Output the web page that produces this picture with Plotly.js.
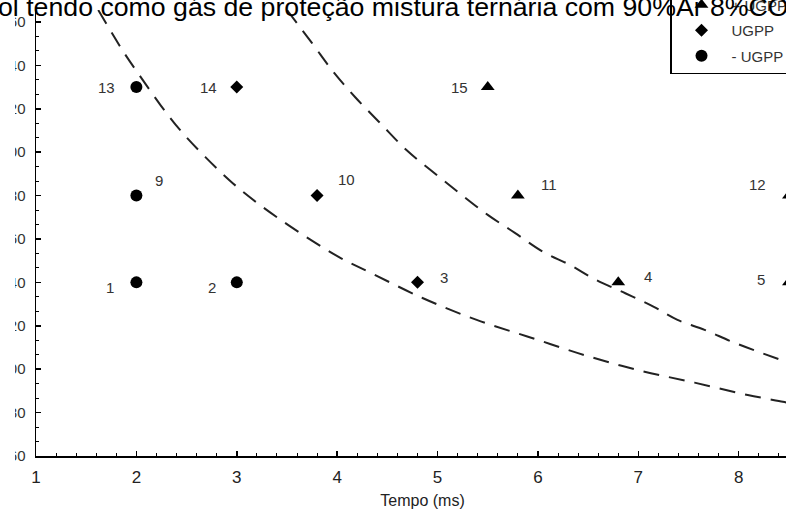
<!DOCTYPE html>
<html><head><meta charset="utf-8">
<script src="https://cdn.plot.ly/plotly-3.0.1.min.js"></script>
<style>
html,body{margin:0;padding:0;overflow:hidden;background:#fff;width:786px;height:512px}
#wrap{position:absolute;left:-44px;top:-50px;width:873px;height:586px}
</style>
</head><body><div id="wrap"></div>
<script>
// ---- data ----
const titleText = "ol tendo como gás de proteção mistura ternária com 90%Ar 8%CO2";
const xTitle = "Tempo (ms)";
const seriesNames = ["+ UGPP", "UGPP", "- UGPP"];

const triIds = ["15", "11", "12", "4", "5"];
const triX = [5.5, 5.8, 8.5, 6.8, 8.5];
const triY = [430, 380, 380, 340, 340];

const diaIds = ["14", "10", "3"];
const diaX = [3, 3.8, 4.8];
const diaY = [430, 380, 340];

const cirIds = ["13", "9", "1", "2"];
const cirX = [2, 2, 2, 3];
const cirY = [430, 380, 340, 340];

const lowerCurveX = [1.62, 1.87, 2.04, 2.24, 2.45, 2.69, 2.96, 3.23, 3.51, 3.78, 4.04, 4.33, 4.85, 5.39, 5.94, 6.49, 7.02, 7.56, 8.09, 8.44, 8.5];
const lowerCurveY = [465.5, 446.3, 434.8, 421.7, 409.4, 397.6, 385.7, 375.7, 366.5, 358.3, 351.1, 344.5, 332.8, 322.7, 314.4, 306.1, 299.3, 293.8, 288.1, 285.0, 284.4];

const upperCurveX = [3.50, 3.75, 3.96, 4.18, 4.43, 4.69, 4.97, 5.24, 5.50, 5.77, 6.05, 6.32, 6.58, 6.87, 7.15, 7.39, 7.66, 7.93, 8.19, 8.47];
const upperCurveY = [465.5, 450.2, 437.1, 425.3, 413.3, 401.0, 390.3, 380.3, 371.1, 362.8, 354.1, 348.0, 341.1, 335.0, 328.8, 322.7, 318.1, 312.7, 308.1, 303.5];

// ---- styling (label offsets in px, not data) ----
const labelOffsets = {
  "13": [-30, 0], "14": [-28, 0], "15": [-28, 0],
  "9": [23, -15], "10": [29, -16], "11": [31, -11], "12": [-31, -11],
  "1": [-26, 5], "2": [-25, 5], "3": [27, -5], "4": [30, -6], "5": [-28, -3]
};
const FONT = "Liberation Sans, Arial, sans-serif";

const traces = [
  {x: upperCurveX, y: upperCurveY, mode: "lines", line: {color: "#222", width: 2, dash: "16px,10px", shape: "spline"}, showlegend: false, hoverinfo: "skip"},
  {x: lowerCurveX, y: lowerCurveY, mode: "lines", line: {color: "#222", width: 2, dash: "16px,10px", shape: "spline"}, showlegend: false, hoverinfo: "skip"},
  {x: triX, y: triY, name: seriesNames[0], legendgroup: "a", mode: "markers", marker: {symbol: "triangle-up", size: 12, color: "#000"}},
  {x: diaX, y: diaY, name: seriesNames[1], legendgroup: "b", mode: "markers", marker: {symbol: "diamond", size: 10, color: "#000"}},
  {x: cirX, y: cirY, name: seriesNames[2], legendgroup: "c", mode: "markers", marker: {symbol: "circle", size: 12, color: "#000"}}
];

const annotations = [];
function addLabels(ids, xs, ys) {
  ids.forEach((id, i) => {
    const off = labelOffsets[id];
    annotations.push({x: xs[i], y: ys[i], xref: "x", yref: "y", text: id, showarrow: false,
      xshift: off[0], yshift: -off[1], font: {family: FONT, size: 15, color: "#333"}});
  });
}
addLabels(triIds, triX, triY);
addLabels(diaIds, diaX, diaY);
addLabels(cirIds, cirX, cirY);

const W = 873, H = 586;
const layout = {
  width: W, height: H,
  margin: {l: 80, r: 20, t: 60, b: 80},
  paper_bgcolor: "#fff", plot_bgcolor: "#fff",
  font: {family: FONT, color: "#222"},
  title: {text: titleText, font: {family: FONT, size: 26.7, color: "#000"},
    x: 42 / W, xanchor: "left", xref: "container", y: 1 - 56.5 / H, yanchor: "middle", yref: "container"},
  xaxis: {range: [1, 8.7], tick0: 1, dtick: 1, ticks: "inside", ticklen: 5, tickwidth: 1.5, tickcolor: "#000",
    showline: true, linecolor: "#000", linewidth: 1.5, showgrid: false, zeroline: false,
    minor: {dtick: 0.2, ticks: "inside", ticklen: 3, tickcolor: "#000", tickwidth: 1, showgrid: false},
    tickfont: {family: FONT, size: 17, color: "#222"}, ticklabelstandoff: 5, automargin: false,
    title: {text: xTitle, font: {family: FONT, size: 16, color: "#222"}, standoff: 9}},
  yaxis: {range: [260, 465.5], tick0: 260, dtick: 20, ticks: "inside", ticklen: 5, tickwidth: 1.5, tickcolor: "#000",
    showline: true, linecolor: "#000", linewidth: 1.5, showgrid: false, zeroline: false,
    minor: {dtick: 20 / 3, ticks: "inside", ticklen: 3, tickcolor: "#000", tickwidth: 1, showgrid: false},
    tickfont: {family: FONT, size: 15, color: "#333"}, ticklabelstandoff: 6, automargin: false},
  legend: {x: 0.8202, y: 1 - (124 - 60) / 446, xanchor: "left", yanchor: "bottom", bgcolor: "#fff",
    bordercolor: "#000", borderwidth: 1.5, font: {family: FONT, size: 15, color: "#333"},
    itemwidth: 50, tracegroupgap: 3},
  annotations: annotations,
  shapes: [{type: "rect", xref: "paper", yref: "paper", x0: -0.2, x1: (15 - 36) / 773, y0: -0.02, y1: 0.991,
    fillcolor: "#fff", line: {width: 0}, layer: "above"}],
  showlegend: true
};

Plotly.newPlot("wrap", traces, layout, {displayModeBar: false, staticPlot: true});
</script>
</body></html>
